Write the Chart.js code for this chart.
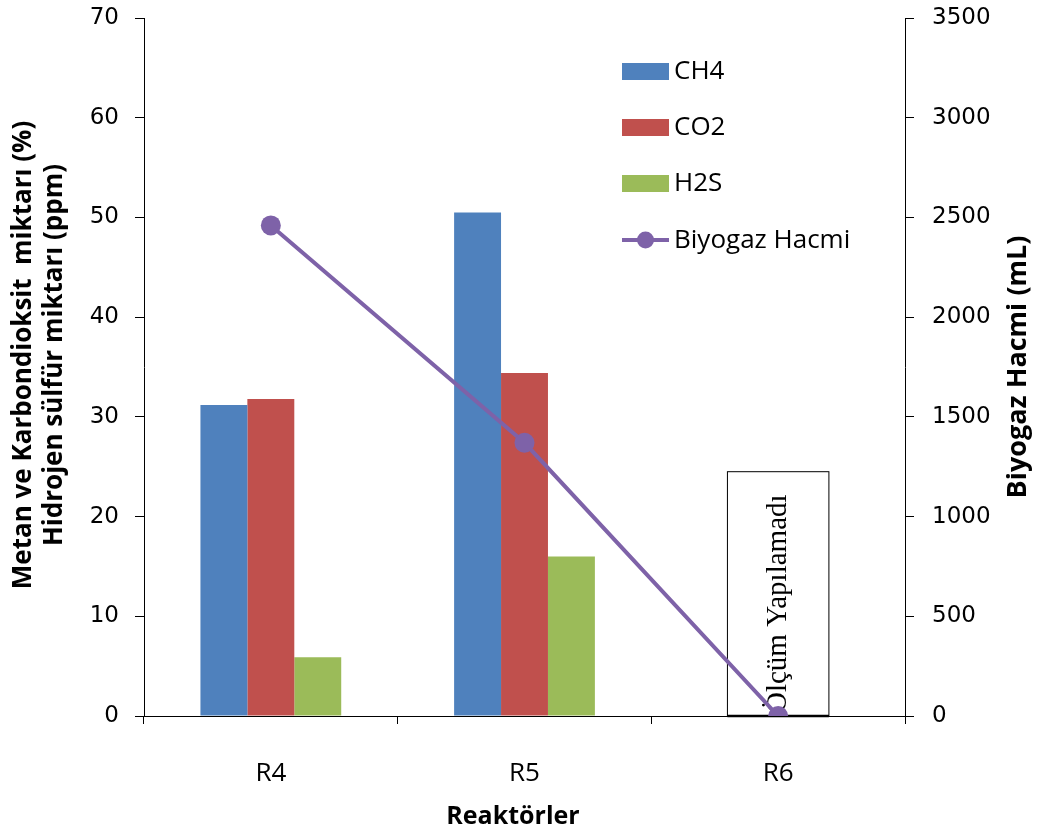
<!DOCTYPE html>
<html>
<head>
<meta charset="utf-8">
<script src="https://cdn.jsdelivr.net/npm/chart.js@4"></script>
<style>
  html, body { margin: 0; padding: 0; background: #fff; }
  #wrap { width: 1043px; height: 839px; position: relative; }
</style>
</head>
<body>
<div id="wrap"><canvas id="grafik"></canvas></div>
<script>
// Veriler
const reaktorler = ["R4", "R5", "R6"];
const ch4 = [31.2, 50.5, 0];
const co2 = [31.8, 34.4, 0];
const h2s = [5.9, 16.0, 0];
const biyogazHacmi = [2460, 1370, 0];
const solTikler = [0, 10, 20, 30, 40, 50, 60, 70];
const sagTikler = [0, 500, 1000, 1500, 2000, 2500, 3000, 3500];
const olcumYok = { index: 2, yukseklik: 24.5, yazi: "Ölçüm Yapılamadı" };

const MAVI = "#4F81BD", KIRMIZI = "#C0504D", YESIL = "#9BBB59", MOR = "#7E62A8";
const FONT = "'Open Sans', 'DejaVu Sans', sans-serif";
const TIK_FONT = "'DejaVu Sans', sans-serif";

// R6 icin "olcum yapilamadi" kutusu
const olcumKutusu = {
  id: "olcumKutusu",
  beforeDatasetsDraw(chart) {
    const { ctx, scales } = chart;
    const xc = scales.x.getPixelForValue(olcumYok.index);
    const kat = scales.x.getPixelForValue(1) - scales.x.getPixelForValue(0);
    const y0 = scales.y.getPixelForValue(0);
    const y1 = scales.y.getPixelForValue(olcumYok.yukseklik);
    const w = kat * 0.4;
    ctx.save();
    ctx.strokeStyle = "#000";
    ctx.lineWidth = 1;
    ctx.strokeRect(xc - w / 2, y1, w, y0 - y1);
    ctx.lineWidth = 2.5;
    ctx.beginPath();
    ctx.moveTo(xc - w / 2, y0);
    ctx.lineTo(xc + w / 2, y0);
    ctx.stroke();
    ctx.translate(xc, y0 - 3);
    ctx.rotate(-Math.PI / 2);
    ctx.fillStyle = "#000";
    ctx.font = "29px 'Liberation Serif', serif";
    ctx.textAlign = "left";
    ctx.textBaseline = "middle";
    ctx.fillText(olcumYok.yazi, 0, 0);
    ctx.restore();
  }
};

// Eksen basliklari ve lejant
const basliklar = {
  id: "basliklar",
  afterDraw(chart) {
    const { ctx, chartArea } = chart;
    const orta = (chartArea.top + chartArea.bottom) / 2;
    ctx.save();
    ctx.fillStyle = "#000";
    ctx.font = "bold 26px " + FONT;
    ctx.textAlign = "center";
    ctx.textBaseline = "middle";
    // sol baslik
    ctx.save();
    ctx.translate(24, orta - 12);
    ctx.rotate(-Math.PI / 2);
    ctx.fillText("Metan ve Karbondioksit  miktarı (%)", 0, 0);
    ctx.restore();
    ctx.save();
    ctx.translate(55, orta - 12);
    ctx.rotate(-Math.PI / 2);
    ctx.fillText("Hidrojen sülfür miktarı (ppm)", 0, 0);
    ctx.restore();
    // sag baslik
    ctx.save();
    ctx.font = "bold 27px " + FONT;
    ctx.translate(1018, orta);
    ctx.rotate(-Math.PI / 2);
    ctx.fillText("Biyogaz Hacmi (mL)", 0, 0);
    ctx.restore();
    // x baslik
    ctx.font = "bold 25px " + FONT;
    ctx.fillText("Reaktörler", 513, 817);

    // lejant
    const lx = 622, lw = 47;
    const satirlar = [71, 127, 183, 240];
    ctx.font = "26px " + FONT;
    ctx.textAlign = "left";
    chart.data.datasets.forEach((ds, i) => {
      const y = satirlar[i];
      if (ds.type === "line") {
        ctx.strokeStyle = ds.borderColor;
        ctx.lineWidth = 4;
        ctx.beginPath();
        ctx.moveTo(lx, y);
        ctx.lineTo(lx + lw, y);
        ctx.stroke();
        ctx.fillStyle = ds.borderColor;
        ctx.beginPath();
        ctx.arc(lx + lw / 2, y, 8.5, 0, Math.PI * 2);
        ctx.fill();
      } else {
        ctx.fillStyle = ds.backgroundColor;
        ctx.fillRect(lx, y - 8, lw, 17);
      }
      ctx.fillStyle = "#000";
      ctx.fillText(ds.label, lx + lw + 5, y + 1);
    });
    ctx.restore();
  }
};

new Chart(document.getElementById("grafik"), {
  type: "bar",
  data: {
    labels: reaktorler,
    datasets: [
      { label: "CH4", data: ch4, backgroundColor: MAVI, yAxisID: "y", order: 1 },
      { label: "CO2", data: co2, backgroundColor: KIRMIZI, yAxisID: "y", order: 1 },
      { label: "H2S", data: h2s, backgroundColor: YESIL, yAxisID: "y", order: 1 },
      {
        type: "line", label: "Biyogaz Hacmi", data: biyogazHacmi, yAxisID: "y2", order: 0,
        borderColor: MOR, backgroundColor: MOR, borderWidth: 4,
        pointRadius: 10, pointBackgroundColor: MOR, pointBorderWidth: 0, tension: 0
      }
    ]
  },
  options: {
    responsive: true,
    maintainAspectRatio: false,
    animation: false,
    layout: { padding: { top: 18, left: 0, right: 0, bottom: 0 } },
    datasets: { bar: { categoryPercentage: 0.555, barPercentage: 1 } },
    plugins: { legend: { display: false }, tooltip: { enabled: false } },
    scales: {
      x: {
        offset: true,
        grid: { offset: true, drawOnChartArea: false, color: "#000", tickLength: 8 },
        border: { color: "#000", width: 1 },
        ticks: { color: "#000", font: { family: FONT, size: 26 }, padding: 34 },
        afterFit(s) { s.height = 123; s.paddingLeft = 0; s.paddingRight = 0; }
      },
      y: {
        position: "left",
        min: 0, max: 70,
        afterBuildTicks(s) { s.ticks = solTikler.map(v => ({ value: v })); },
        grid: { drawOnChartArea: false, color: "#000", tickLength: 9 },
        border: { color: "#000", width: 1 },
        ticks: { color: "#000", font: { family: TIK_FONT, size: 23 }, padding: 16 },
        afterFit(s) { s.width = 144; s.paddingTop = 0; s.paddingBottom = 0; }
      },
      y2: {
        position: "right",
        min: 0, max: 3500,
        afterBuildTicks(s) { s.ticks = sagTikler.map(v => ({ value: v })); },
        grid: { drawOnChartArea: false, color: "#000", tickLength: 9 },
        border: { color: "#000", width: 1 },
        ticks: { color: "#000", font: { family: TIK_FONT, size: 23 }, padding: 18, callback: v => String(v) },
        afterFit(s) { s.width = 138; s.paddingTop = 0; s.paddingBottom = 0; }
      }
    }
  },
  plugins: [olcumKutusu, basliklar]
});
</script>
</body>
</html>
